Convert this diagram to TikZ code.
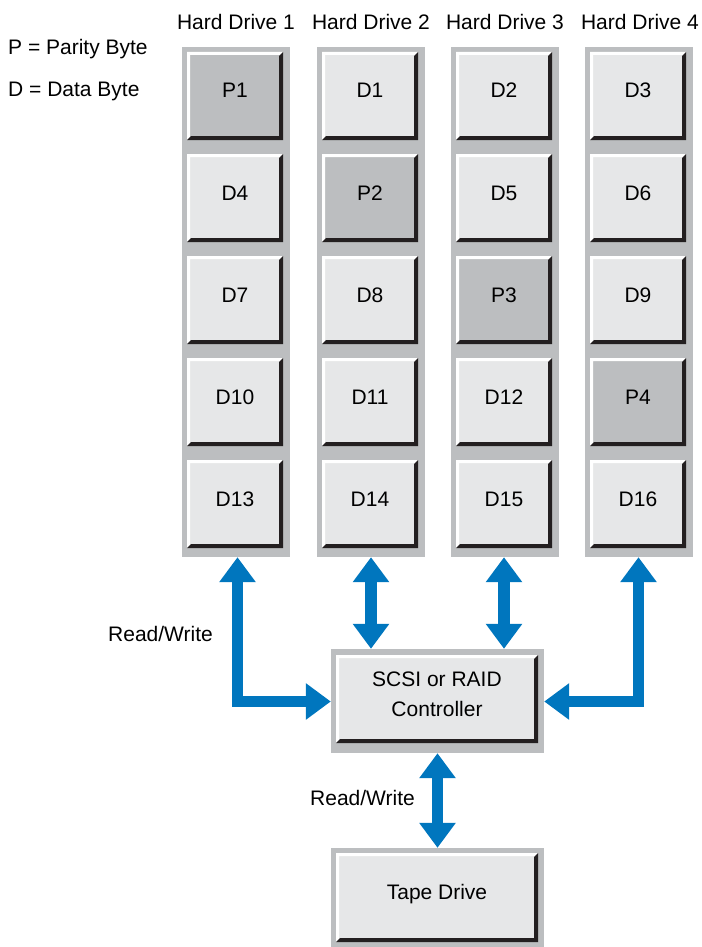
\documentclass[tikz,border=0pt]{standalone}
\usepackage{fontspec}
\setmainfont{Liberation Sans}
\usetikzlibrary{arrows.meta}
\definecolor{framegray}{HTML}{BCBEC0}
\definecolor{facegray}{HTML}{E6E7E8}
\definecolor{paritygray}{HTML}{BCBEC0}
\definecolor{edgedark}{HTML}{231F20}
\definecolor{flowblue}{RGB}{0,118,190}
\tikzset{
  txt/.style={font=\fontsize{21}{30}\selectfont, inner sep=0pt},
  colframe/.style={fill=framegray, draw=none, inner sep=0pt, minimum width=108pt, minimum height=510pt},
  boxframe/.style={fill=framegray, draw=none, inner sep=0pt, minimum width=213pt},
  bevel/.style={path picture={
    \fill[white] (path picture bounding box.south west) -- (path picture bounding box.north west)
      -- (path picture bounding box.north east) -- ([xshift=-3pt,yshift=-3pt]path picture bounding box.north east)
      -- ([xshift=3pt,yshift=-3pt]path picture bounding box.north west) -- ([xshift=3pt,yshift=3pt]path picture bounding box.south west) -- cycle;
    \fill[edgedark] (path picture bounding box.north east) -- (path picture bounding box.south east)
      -- (path picture bounding box.south west) -- ([xshift=4pt,yshift=4pt]path picture bounding box.south west)
      -- ([xshift=-4pt,yshift=4pt]path picture bounding box.south east) -- ([xshift=-4pt,yshift=-4pt]path picture bounding box.north east) -- cycle;
  }},
  blockbase/.style={txt, bevel, minimum width=96pt, minimum height=88pt, text height=15pt, text depth=11pt},
  databox/.style={blockbase, fill=facegray},
  paritybox/.style={blockbase, fill=paritygray},
  flow/.style={draw=flowblue, line width=11.5pt, line join=miter, >={Triangle[length=25pt,width=35pt]}, <->},
}
\begin{document}
\begin{tikzpicture}[x=1pt,y=-1pt]
\useasboundingbox (0,0) rectangle (701,947);

% legend
\node[txt, anchor=base west] (legP) at (8,54.5) {P = Parity Byte};
\node[txt, anchor=base west] (legD) at (8,97) {D = Data Byte};

% drive columns
\node[colframe] (col1) at (236,302) {};
\node[colframe] (col2) at (371,302) {};
\node[colframe] (col3) at (505,302) {};
\node[colframe] (col4) at (639,302) {};

\node[txt, anchor=base] (hd1) at (236,30) {Hard Drive 1};
\node[txt, anchor=base] (hd2) at (371,30) {Hard Drive 2};
\node[txt, anchor=base] (hd3) at (505,30) {Hard Drive 3};
\node[txt, anchor=base] (hd4) at (640,30) {Hard Drive 4};

% row 1
\node[paritybox] (p1) at (235,96) {P1};
\node[databox] (d1) at (370,96) {D1};
\node[databox] (d2) at (504,96) {D2};
\node[databox] (d3) at (638,96) {D3};
% row 2
\node[databox] (d4) at (235,198) {D4};
\node[paritybox] (p2) at (370,198) {P2};
\node[databox] (d5) at (504,198) {D5};
\node[databox] (d6) at (638,198) {D6};
% row 3
\node[databox] (d7) at (235,300) {D7};
\node[databox] (d8) at (370,300) {D8};
\node[paritybox] (p3) at (504,300) {P3};
\node[databox] (d9) at (638,300) {D9};
% row 4
\node[databox] (d10) at (235,402) {D10};
\node[databox] (d11) at (370,402) {D11};
\node[databox] (d12) at (504,402) {D12};
\node[paritybox] (p4) at (638,402) {P4};
% row 5
\node[databox] (d13) at (235,504) {D13};
\node[databox] (d14) at (370,504) {D14};
\node[databox] (d15) at (504,504) {D15};
\node[databox] (d16) at (638,504) {D16};

% controller
\node[boxframe, minimum height=104pt] (ctrlbg) at (437.5,701) {};
\node[databox, minimum width=202pt, minimum height=88pt, text height=45pt, text depth=11pt] (ctrl) at (437,699)
  {\begin{tabular}[b]{@{}c@{}}SCSI or RAID\\Controller\end{tabular}};

% tape drive
\node[boxframe, minimum height=99pt] (tapebg) at (437.5,897.5) {};
\node[databox, minimum width=202pt, minimum height=89pt] (tape) at (437,897.5) {Tape Drive};

% connectors
\coordinate (bend1) at (237.5,701.5);
\coordinate (bend4) at (638.5,701.5);
\draw[flow] (col1.south -| bend1) -- (bend1) -- (ctrlbg.west |- bend1);
\draw[flow] (col2.south) -- (ctrlbg.north -| col2.south);
\draw[flow] (col3.south -| 504,0) -- (ctrlbg.north -| 504,0);
\draw[flow] (col4.south -| bend4) -- (bend4) -- (ctrlbg.east |- bend4);
\draw[flow] (ctrlbg.south) -- (tapebg.north);

\node[txt, anchor=base west] (rw1) at (108,641.5) {Read/Write};
\node[txt, anchor=base west] (rw2) at (310,805) {Read/Write};
\end{tikzpicture}
\end{document}
